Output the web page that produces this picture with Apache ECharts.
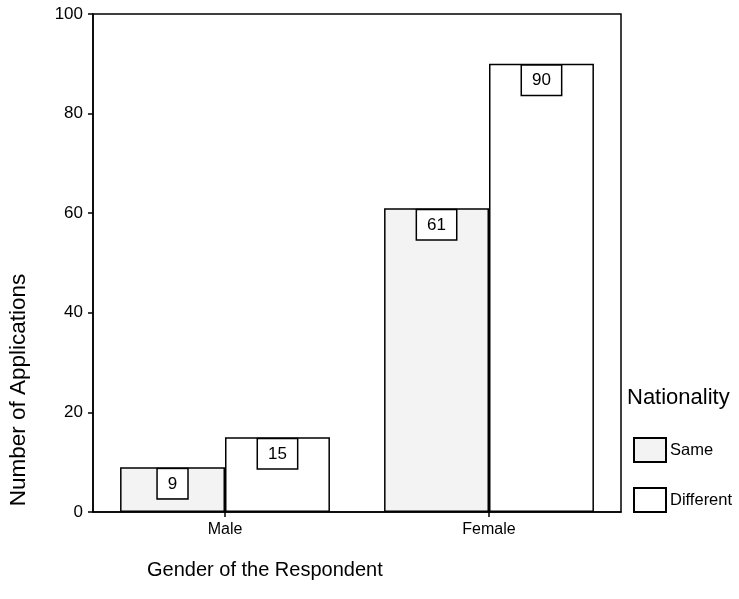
<!DOCTYPE html>
<html><head><meta charset="utf-8">
<script src="https://cdn.jsdelivr.net/npm/echarts@6/dist/echarts.min.js"></script>
<style>html,body{margin:0;padding:0;background:#fff}#c{width:739px;height:599px}</style>
</head><body><div id="c"></div>
<script>
var categories = ['Male', 'Female'];
var sameValues = [9, 61];
var differentValues = [15, 90];
var seriesNames = ['Same', 'Different'];
var yTicks = [0, 20, 40, 60, 80, 100];

var font = 'Liberation Sans, Arial, sans-serif';
var chart = echarts.init(document.getElementById('c'));
var labelCfg = {
  show: true, position: 'insideTop', distance: 2,
  color: '#000', fontFamily: font, fontSize: 17, lineHeight: 18,
  backgroundColor: '#fff', borderColor: '#000', borderWidth: 1.5,
  padding: [6, 10, 5, 10]
};
chart.setOption({
  animation: false,
  backgroundColor: '#fff',
  grid: { left: 93, top: 14, right: 118, bottom: 87, show: true, borderColor: '#000', borderWidth: 1.5, backgroundColor: 'transparent' },
  legend: {
    orient: 'vertical', left: 633, top: 437, padding: 0, itemWidth: 32, itemHeight: 24, itemGap: 24,
    icon: 'rect',
    textStyle: { fontFamily: font, fontSize: 16.5, color: '#000', padding: [0, 0, 0, -1] },
    data: seriesNames
  },
  xAxis: {
    type: 'category', data: categories,
    axisLine: { lineStyle: { color: '#000', width: 1.5 } },
    axisTick: { show: true, alignWithLabel: true, length: 5, lineStyle: { color: '#000', width: 1.5 } },
    axisLabel: { color: '#000', fontFamily: font, fontSize: 16, margin: 10 }
  },
  yAxis: {
    type: 'value', min: yTicks[0], max: yTicks[yTicks.length - 1], interval: 20,
    axisLine: { show: true, lineStyle: { color: '#000', width: 1.5 } },
    axisTick: { show: true, length: 5, lineStyle: { color: '#000', width: 1.5 } },
    axisLabel: { color: '#000', fontFamily: font, fontSize: 17, margin: 10 },
    splitLine: { show: false }
  },
  graphic: [
    { type: 'text', x: 627, y: 398, style: { text: 'Nationality', fontFamily: font, fontSize: 22, fill: '#000', textAlign: 'left', textVerticalAlign: 'middle' } },
    { type: 'text', x: 147, y: 570, style: { text: 'Gender of the Respondent', fontFamily: font, fontSize: 20, fill: '#000', textAlign: 'left', textVerticalAlign: 'middle' } },
    { type: 'text', x: 19, y: 390, rotation: Math.PI / 2, style: { text: 'Number of Applications', fontFamily: font, fontSize: 22.5, fill: '#000', textAlign: 'center', textVerticalAlign: 'middle' } }
  ],
  series: [
    { name: seriesNames[0], type: 'bar', data: sameValues, barGap: '0%', barCategoryGap: '20.5%',
      itemStyle: { color: '#f3f3f3', borderColor: '#000', borderWidth: 1.5 }, label: labelCfg },
    { name: seriesNames[1], type: 'bar', data: differentValues,
      itemStyle: { color: '#fff', borderColor: '#000', borderWidth: 1.5 }, label: labelCfg }
  ]
});
</script></body></html>
